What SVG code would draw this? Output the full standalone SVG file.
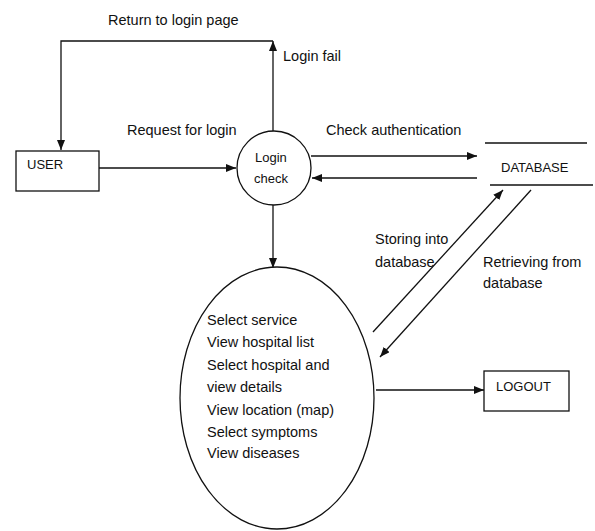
<svg xmlns="http://www.w3.org/2000/svg" width="595" height="531" viewBox="0 0 595 531">
  <style>
    text { font-family: "Liberation Sans", Arial, sans-serif; font-size: 14.5px; fill: #111; }
    text.sm { font-size: 13px; }
    .ln { fill: none; stroke: #111; stroke-width: 1.3; }
    .box { fill: #fff; stroke: #111; stroke-width: 1.3; }
  </style>
  <defs>
    <marker id="arrow" viewBox="0 0 10 8" refX="10" refY="4" markerWidth="10" markerHeight="8" markerUnits="userSpaceOnUse" orient="auto">
      <path d="M0,0 L10,4 L0,8 Z" fill="#111"/>
    </marker>
  </defs>
  <rect width="595" height="531" fill="#fff"/>

  <g id="connectors">
    <!-- login fail loop back to user -->
    <line class="ln" x1="273" y1="131" x2="273" y2="41" marker-end="url(#arrow)"/>
    <polyline class="ln" points="273,41 61,41 61,150" marker-end="url(#arrow)"/>
    <!-- request for login -->
    <line class="ln" x1="99" y1="168" x2="236" y2="168" marker-end="url(#arrow)"/>
    <!-- check authentication -->
    <line class="ln" x1="311" y1="156" x2="477" y2="156" marker-end="url(#arrow)"/>
    <line class="ln" x1="477" y1="178" x2="312" y2="178" marker-end="url(#arrow)"/>
    <!-- login success to services -->
    <line class="ln" x1="273" y1="205" x2="273" y2="268" marker-end="url(#arrow)"/>
    <!-- storing / retrieving -->
    <line class="ln" x1="373" y1="332" x2="503" y2="190" marker-end="url(#arrow)"/>
    <line class="ln" x1="531" y1="190" x2="380" y2="357" marker-end="url(#arrow)"/>
    <!-- logout -->
    <line class="ln" x1="376" y1="390" x2="484" y2="390" marker-end="url(#arrow)"/>
    <text x="108" y="25">Return to login page</text>
    <text x="283" y="61">Login fail</text>
    <text x="127" y="135">Request for login</text>
    <text x="326" y="135">Check authentication</text>
    <text x="375" y="244">Storing into</text>
    <text x="375" y="267">database</text>
    <text x="483" y="267">Retrieving from</text>
    <text x="483" y="288">database</text>
  </g>

  <g id="user">
    <rect class="box" x="16" y="151" width="83" height="40"/>
    <text class="sm" x="27" y="169">USER</text>
  </g>

  <g id="login-check">
    <circle class="box" cx="274" cy="168" r="37"/>
    <text class="sm" x="255" y="162">Login</text>
    <text class="sm" x="254" y="183">check</text>
  </g>

  <g id="database">
    <line class="ln" x1="485" y1="143" x2="587" y2="143"/>
    <line class="ln" x1="490" y1="185" x2="593" y2="185"/>
    <text class="sm" x="501" y="172">DATABASE</text>
  </g>

  <g id="services">
    <ellipse class="box" cx="277" cy="398" rx="97" ry="131"/>
    <text x="207" y="325">Select service</text>
    <text x="207" y="347">View hospital list</text>
    <text x="207" y="370">Select hospital and</text>
    <text x="207" y="392">view details</text>
    <text x="207" y="415">View location (map)</text>
    <text x="207" y="437">Select symptoms</text>
    <text x="207" y="458">View diseases</text>
  </g>

  <g id="logout">
    <rect class="box" x="484" y="371" width="85" height="40"/>
    <text class="sm" x="496" y="391">LOGOUT</text>
  </g>
</svg>
